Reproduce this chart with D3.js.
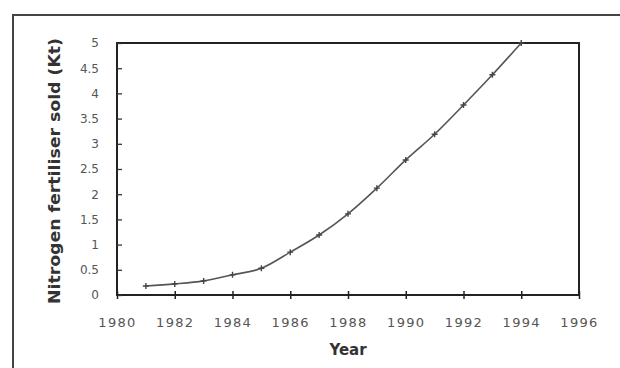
<!DOCTYPE html>
<html><head><meta charset="utf-8">
<script src="https://cdn.jsdelivr.net/npm/d3@7"></script>
<style>body{margin:0;background:#fff}svg{display:block}</style>
</head><body>
<svg id="c" width="620" height="368"></svg>
<script>
const years = [1981,1982,1983,1984,1985,1986,1987,1988,1989,1990,1991,1992,1993,1994];
const values = [0.18,0.22,0.28,0.40,0.53,0.85,1.19,1.61,2.12,2.68,3.19,3.77,4.37,5.0];
const xTicks = [1980,1982,1984,1986,1988,1990,1992,1994,1996];
const yTicks = [0,0.5,1,1.5,2,2.5,3,3.5,4,4.5,5];
const xTitle = "Year";
const yTitle = "Nitrogen fertiliser sold (Kt)";

const svg = d3.select("#c");
const L=117, R=579, T=43, B=295;
const x = d3.scaleLinear().domain([1980,1996]).range([L,R]);
const y = d3.scaleLinear().domain([0,5]).range([B,T]);

// outer page frame
svg.append("path").attr("d","M13,368 V15 H620").attr("fill","none").attr("stroke","#444").attr("stroke-width",2);

// plot frame
svg.append("rect").attr("x",L).attr("y",T).attr("width",R-L).attr("height",B-T)
  .attr("fill","none").attr("stroke","#222").attr("stroke-width",2);

// y axis
const ya = svg.append("g").attr("transform",`translate(${L},0)`)
  .call(d3.axisLeft(y).tickValues(yTicks).tickFormat(d=>String(d)).tickSizeInner(5).tickSizeOuter(0).tickPadding(13));
ya.select(".domain").remove();
ya.selectAll(".tick line").attr("x2",5).attr("stroke","#333").attr("stroke-width",1.3);
ya.selectAll(".tick text").attr("font-family","DejaVu Sans").attr("font-size",12).attr("fill","#555");

// x axis
const xa = svg.append("g").attr("transform",`translate(0,${B})`)
  .call(d3.axisBottom(x).tickValues(xTicks).tickFormat(d3.format("d")).tickSizeInner(4).tickSizeOuter(0).tickPadding(19));
xa.select(".domain").remove();
xa.selectAll(".tick line").attr("y1",-4).attr("stroke","#222").attr("stroke-width",1.5);
xa.selectAll(".tick text").attr("font-family","DejaVu Sans").attr("font-size",13).attr("letter-spacing","1.3px").attr("fill","#555");

// line
const line = d3.line().x((d,i)=>x(years[i])).y(d=>y(d)).curve(d3.curveMonotoneX);
svg.append("path").datum(values).attr("d",line).attr("fill","none").attr("stroke","#555").attr("stroke-width",1.6);

// markers
svg.append("g").selectAll("path").data(values).join("path")
  .attr("d",(d,i)=>`M${x(years[i])-3},${y(d)}h6M${x(years[i])},${y(d)-3}v6`)
  .attr("stroke","#444").attr("stroke-width",1.4);

// titles
svg.append("text").attr("x",348).attr("y",355).attr("text-anchor","middle")
  .attr("font-family","DejaVu Sans").attr("font-weight","bold").attr("font-size",15).attr("fill","#333").text(xTitle);
svg.append("text").attr("transform","translate(60,171) rotate(-90)").attr("text-anchor","middle")
  .attr("font-family","DejaVu Sans").attr("font-weight","bold").attr("font-size",15).attr("fill","#333")
  .attr("textLength",266).attr("lengthAdjust","spacingAndGlyphs").text(yTitle);
</script>
</body></html>
